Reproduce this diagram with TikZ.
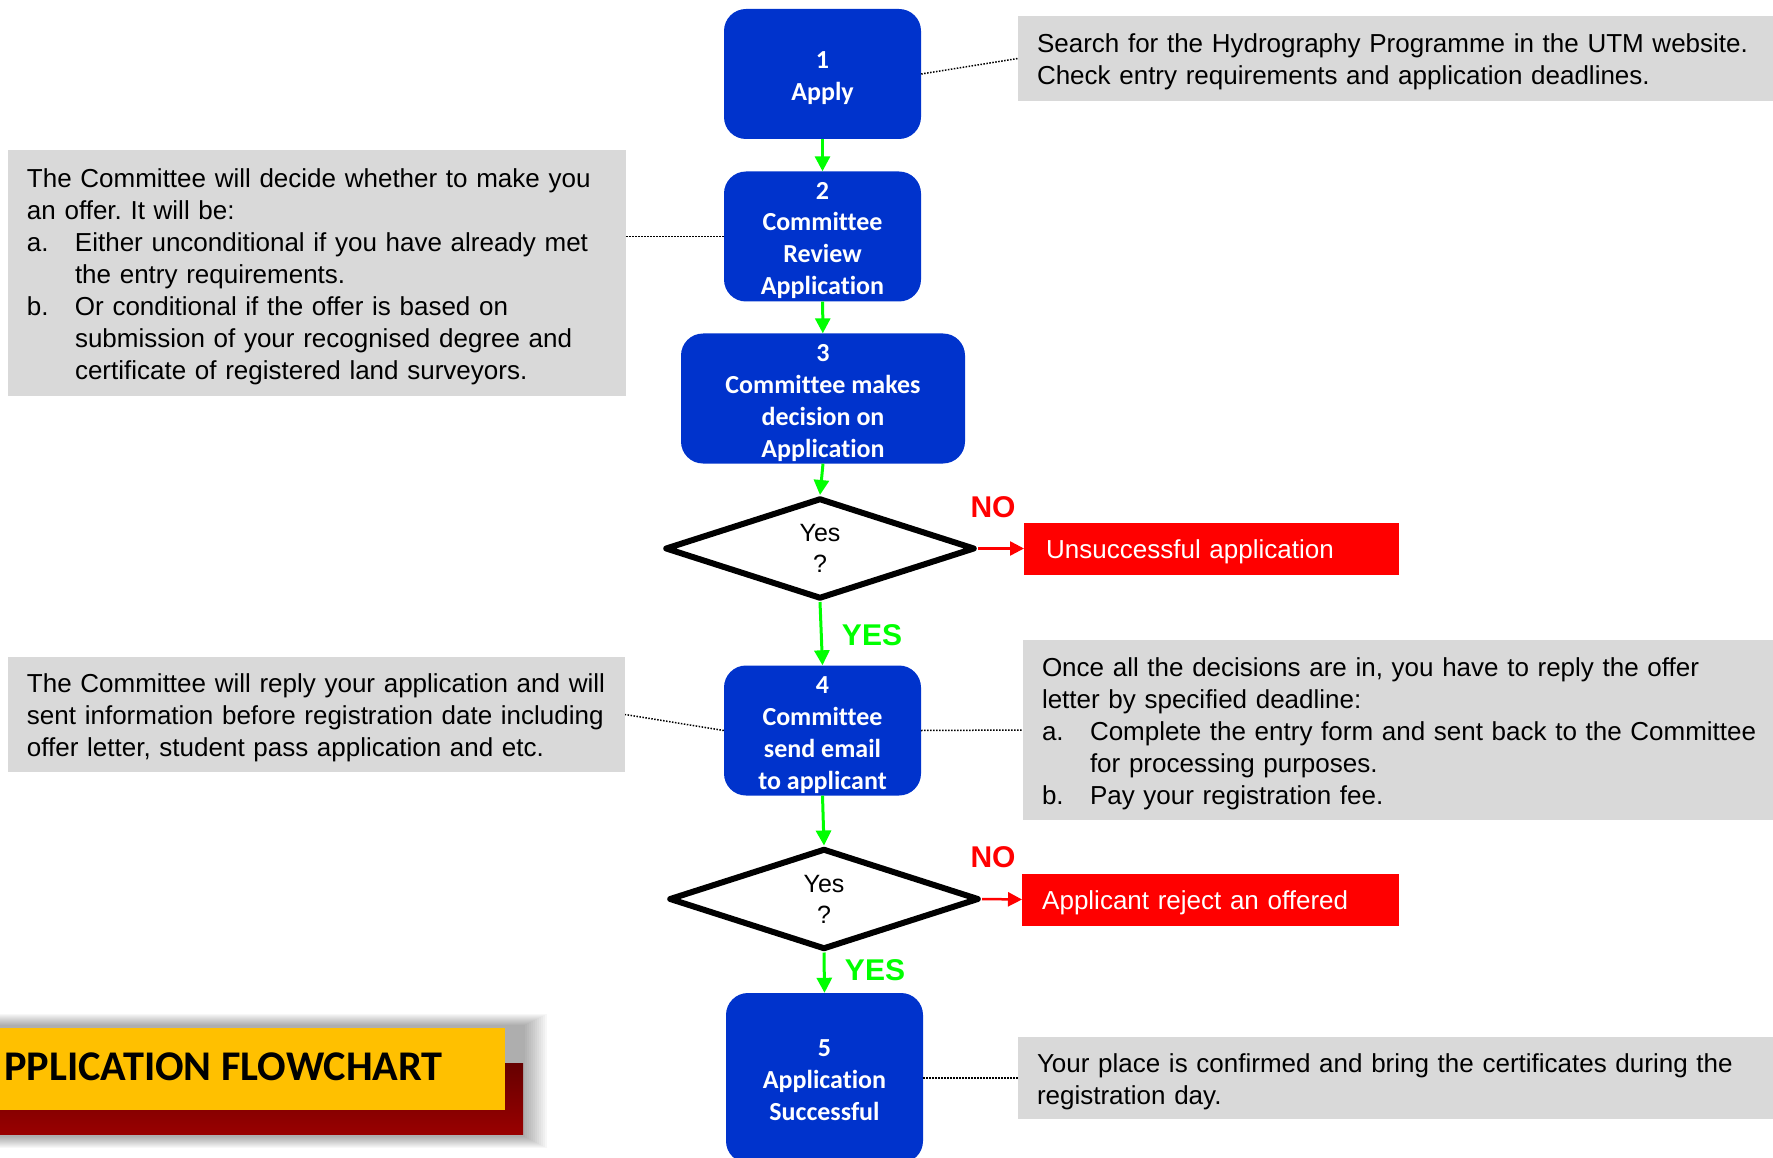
\documentclass[tikz,border=0pt]{standalone}
\usepackage{fontspec}
\setmainfont{Liberation Sans}
\newfontfamily\calibri[Ligatures=NoCommon]{Carlito}
\usetikzlibrary{shapes.geometric,arrows.meta}

\definecolor{stepblue}{HTML}{0033CC}
\definecolor{notegray}{HTML}{D9D9D9}
\definecolor{titleyellow}{HTML}{FFC000}
\definecolor{yesgreen}{HTML}{00FF00}
\definecolor{nored}{HTML}{FF0000}
\setlength{\parindent}{0pt}
\frenchspacing
\newcommand{\notepad}{\leftskip=19pt\relax\rule{0pt}{26pt}}
\newcommand{\itemlabel}[1]{\makebox[48pt][l]{#1}}
\newcommand{\stepnum}[1]{\rule{0pt}{21pt}#1}

\begin{document}
\begin{tikzpicture}[x=1pt,y=-1pt,
    stepbox/.style={rectangle, rounded corners=22pt, fill=stepblue, text=white,
        align=center, minimum width=197pt, minimum height=130pt, inner sep=0pt, text depth=0pt,
        font=\calibri\bfseries\fontsize{26pt}{32pt}\selectfont},
    decision/.style={diamond, draw=black, line width=6pt, line join=round, fill=white,
        minimum width=310pt, minimum height=101pt, inner sep=0pt, align=center,
        font=\fontsize{25pt}{31pt}\selectfont},
    notebox/.style={rectangle, fill=notegray, inner sep=0pt, align=left,
        font=\fontsize{26pt}{32pt}\selectfont},
    failbox/.style={rectangle, fill=nored, text=white, inner ysep=0pt, align=left,
        minimum height=52pt, font=\fontsize{26pt}{32pt}\selectfont},
    nolabel/.style={text=nored, inner sep=0pt, font=\bfseries\fontsize{30pt}{30pt}\selectfont},
    yeslabel/.style={text=yesgreen, inner sep=0pt, font=\bfseries\fontsize{30pt}{30pt}\selectfont},
    yesarrow/.style={draw=yesgreen, line width=3pt, -{Triangle[length=15pt,width=15pt]}},
    noarrow/.style={draw=nored, line width=2.5pt, -{Triangle[length=14pt,width=14pt]}},
    notelink/.style={draw=black, line width=1.5pt, dash pattern=on 1.5pt off 1.5pt}]

    \clip (0,0) rectangle (1773,1158);

    \node[stepbox] (apply) at (822.5,74) {\stepnum{1}\\Apply};
    \node[stepbox] (review) at (822.5,236.5) {\stepnum{2}\\Committee\\Review\\Application};
    \node[stepbox, minimum width=284pt] (decide) at (823,398.5) {\stepnum{3}\\Committee makes\\decision on\\Application};
    \node[decision] (check1) at (820,548.5) {Yes\\?};
    \node[stepbox] (reply) at (822.5,730.5) {\stepnum{4}\\Committee\\send email\\to applicant};
    \node[decision] (check2) at (824,899) {Yes\\?};
    \node[stepbox, minimum height=170pt] (success) at (824.5,1078) {\stepnum{5}\\Application\\Successful};

    \node[failbox, anchor=west, inner xsep=22pt, text width=331pt] (fail) at (1024,548.5) {\rule{0pt}{26pt}Unsuccessful application\par};
    \node[failbox, anchor=west, inner xsep=20pt, text width=337pt] (reject) at (1022,899.5) {\rule{0pt}{26pt}Applicant reject an offered\par};

    \node[nolabel] (no1) at (993,507.5) {NO};
    \node[nolabel] (no2) at (993,857.5) {NO};
    \node[yeslabel] (yes1) at (872,635.5) {YES};
    \node[yeslabel] (yes2) at (875,970) {YES};

    \node[notebox, text width=762pt, minimum height=85pt] (noteapply) at (1399,58.5) {\notepad
        Search for the Hydrography Programme in the UTM website.\\
        Check entry requirements and application deadlines.\par};
    \node[notebox, text width=618pt, minimum height=246pt] (notereview) at (317,273) {\notepad
        The Committee will decide whether to make you\\
        an offer. It will be:\\
        \itemlabel{a.}Either unconditional if you have already met\\
        \itemlabel{}the entry requirements.\\
        \itemlabel{b.}Or conditional if the offer is based on\\
        \itemlabel{}submission of your recognised degree and\\
        \itemlabel{}certificate of registered land surveyors.\par};
    \node[notebox, text width=617pt, minimum height=115pt] (notereply) at (316.5,714.5) {\notepad
        The Committee will reply your application and will\\
        sent information before registration date including\\
        offer letter, student pass application and etc.\par};
    \node[notebox, text width=757pt, minimum height=180pt] (noteoffer) at (1401.5,730) {\notepad
        Once all the decisions are in, you have to reply the offer\\
        letter by specified deadline:\\
        \itemlabel{a.}Complete the entry form and sent back to the Committee\\
        \itemlabel{}for processing purposes.\\
        \itemlabel{b.}Pay your registration fee.\par};
    \node[notebox, text width=762pt, minimum height=82pt] (notesuccess) at (1399,1078) {\notepad
        Your place is confirmed and bring the certificates during the\\
        registration day.\par};

    \draw[yesarrow] (apply) -- (review);
    \draw[yesarrow] (review) -- (decide);
    \draw[yesarrow] (decide.south) -- (check1.north);
    \draw[yesarrow] (check1.south) -- (reply.north);
    \draw[yesarrow] (reply.south) -- (check2.north);
    \draw[yesarrow] (check2.south) -- (success.north);
    \draw[noarrow] (check1.east) -- (fail.west);
    \draw[noarrow] (check2.east) -- (reject.west);

    \draw[notelink] (apply.east) -- (noteapply.west);
    \draw[notelink] (review.west) -- (review.west -| notereview.east);
    \draw[notelink] (reply.west) -- (notereply.east);
    \draw[notelink] (reply.east) -- (noteoffer.west);
    \draw[notelink] (success.east) -- (notesuccess.west);

    \foreach \s in {1,...,12}
        \fill[black, opacity=0.03] (-30,1026-\s) rectangle (523+2*\s,1136+\s);
    \shade[top color=red!40!black, bottom color=red!60!black] (-30,1063) rectangle (523,1134);
    \node[rectangle, fill=titleyellow, inner sep=0pt, minimum width=535pt, minimum height=82pt]
        (titlebar) at (237.5,1069) {};
    \node[anchor=base west, inner sep=0pt, font=\calibri\bfseries\fontsize{42.3pt}{42pt}\selectfont]
        (title) at (4,1080) {PPLICATION FLOWCHART};
\end{tikzpicture}
\end{document}
